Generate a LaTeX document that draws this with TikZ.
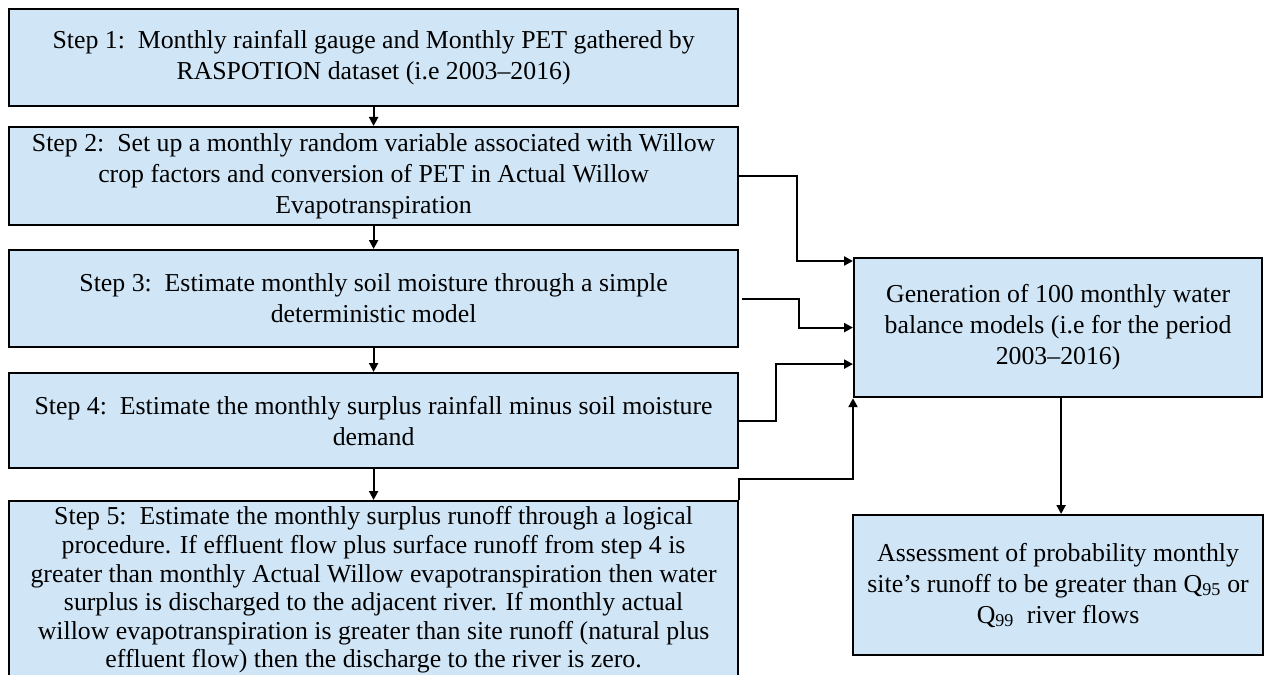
\documentclass[tikz,border=0pt]{standalone}
\usepackage{fontspec}
\setmainfont{Liberation Serif}
\usetikzlibrary{arrows.meta}
\definecolor{boxfill}{RGB}{208,229,246}
\tikzset{
  stepbox/.style={draw=black, line width=2.2bp, fill=boxfill, align=center,
    font=\fontsize{25.8bp}{31bp}\selectfont, inner sep=0pt, anchor=north west},
  arr/.style={draw=black, line width=2.2bp, -{Triangle[length=9bp,width=9bp]}}
}
\begin{document}
\begin{tikzpicture}[x=1bp,y=-1bp]
\useasboundingbox (0,0) rectangle (1269,675);
\clip (0,0) rectangle (1269,675);
\node[stepbox, minimum width=729bp, minimum height=97bp] (b1) at (8,8)
  {Step 1:\ \ Monthly rainfall gauge and Monthly PET gathered by\\ RASPOTION dataset (i.e 2003--2016)};
\node[stepbox, minimum width=729bp, minimum height=98bp] (b2) at (8,126)
  {Step 2:\ \ Set up a monthly random variable associated with Willow\\ crop factors and conversion of PET in Actual Willow\\ Evapotranspiration};
\node[stepbox, minimum width=729bp, minimum height=97bp] (b3) at (8,249)
  {Step 3:\ \ Estimate monthly soil moisture through a simple\\ deterministic model};
\node[stepbox, minimum width=729bp, minimum height=95bp] (b4) at (8,372)
  {Step 4:\ \ Estimate the monthly surplus rainfall minus soil moisture\\ demand};
\node[stepbox, minimum width=729bp, minimum height=178bp,
      font=\fontsize{25.8bp}{28.6bp}\selectfont] (b5) at (8,500)
  {Step 5:\ \ Estimate the monthly surplus runoff through a logical\\ procedure. If effluent flow plus surface runoff from step 4 is\\ greater than monthly Actual Willow evapotranspiration then water\\ surplus is discharged to the adjacent river. If monthly actual\\ willow evapotranspiration is greater than site runoff (natural plus\\ effluent flow) then the discharge to the river is zero.};
\node[stepbox, minimum width=408bp, minimum height=139bp] (gen) at (853,257)
  {Generation of 100 monthly water\\ balance models (i.e for the period\\ 2003--2016)};
\node[stepbox, minimum width=410bp, minimum height=140bp] (ass) at (852,514)
  {Assessment of probability monthly\\ site’s runoff to be greater than Q\textsubscript{95} or\\ Q\textsubscript{99}\ \ river flows};
\draw[arr] (b1.south) -- (b2.north);
\draw[arr] (b2.south) -- (b3.north);
\draw[arr] (b3.south) -- (b4.north);
\draw[arr] (b4.south) -- (b5.north);
\draw[arr] (b2.east) -- ++(58,0) |- ([yshift=-4bp]gen.north west);
\draw[arr] ([xshift=3bp]b3.east) -- ++(57,0) |- (gen.west);
\draw[arr] (b4.east) -- ++(37,0) |- ([yshift=-36.5bp]gen.west);
\draw[arr] (b5.north east) -- ++(0,-21) -| (gen.south west);
\draw[arr] ([xshift=3bp]gen.south) -- ([xshift=3bp]gen.south |- ass.north);
\end{tikzpicture}
\end{document}
